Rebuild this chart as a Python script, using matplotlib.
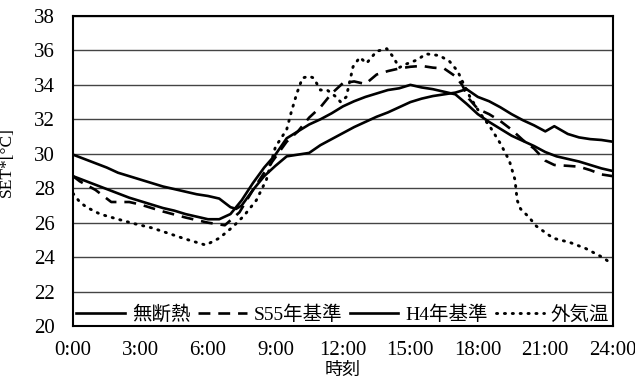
import matplotlib
matplotlib.use("Agg")
import matplotlib.pyplot as plt

plt.rcParams['font.family'] = ['Liberation Serif', 'Noto Sans CJK JP']

# 無断熱 (solid, rises fast)
t_mu = [0, 0.5, 1, 1.5, 2, 2.5, 3, 3.5, 4, 4.5, 5, 5.5, 6, 6.5, 7, 7.5, 8, 8.5, 9,
        9.5, 10, 10.5, 11, 11.5, 12, 12.5, 13, 13.5, 14, 14.5, 15, 15.5, 16, 16.5,
        17, 17.5, 18, 18.5, 19, 19.5, 20, 20.5, 21, 21.5, 22, 22.5, 23, 23.5, 24]
v_mu = [28.7, 28.45, 28.2, 27.95, 27.7, 27.45, 27.25, 27.05, 26.85, 26.7, 26.5, 26.35,
        26.2, 26.2, 26.5, 27.3, 28.3, 29.2, 29.95, 30.9, 31.3, 31.7, 32.0, 32.35, 32.75,
        33.05, 33.3, 33.5, 33.7, 33.8, 34.0, 33.85, 33.75, 33.6, 33.45, 32.9, 32.3,
        31.85, 31.45, 31.05, 30.75, 30.45, 30.1, 29.85, 29.7, 29.55, 29.35, 29.15, 29.0]

# S55年基準 (dashed)
t_s55 = [0, 0.3, 1, 1.7, 2.5, 3, 4, 5, 6, 6.75, 7.4, 8, 8.5, 9, 9.5, 10, 10.5, 11,
         11.5, 12, 12.5, 13, 13.5, 14, 14.5, 15, 15.5, 16, 16.5, 17, 17.3, 17.6, 18,
         18.5, 19, 19.5, 20, 20.5, 21, 21.4, 22, 22.5, 23, 23.5, 24]
v_s55 = [28.7, 28.4, 27.9, 27.2, 27.2, 27.05, 26.65, 26.3, 26.0, 25.85, 26.6, 27.9,
         28.9, 29.8, 30.7, 31.3, 32.1, 32.7, 33.5, 34.1, 34.2, 34.05, 34.6, 34.8, 34.95,
         35.05, 35.1, 35.0, 34.95, 34.5, 34.0, 33.2, 32.6, 32.3, 31.9, 31.4, 30.8, 30.3,
         29.6, 29.35, 29.3, 29.25, 29.05, 28.8, 28.7]

# H4年基準 (solid, lags)
t_h4 = [0, 0.5, 1, 1.5, 2, 2.5, 3, 3.5, 4, 4.5, 5, 5.5, 6, 6.5, 7, 7.25, 7.5, 8, 8.5,
        9, 9.5, 10, 10.5, 11, 11.5, 12, 12.5, 13, 13.5, 14, 14.5, 15, 15.5, 16, 16.5,
        17, 17.5, 18, 18.5, 19, 19.5, 20, 20.5, 21, 21.4, 22, 22.5, 23, 23.5, 24]
v_h4 = [29.95, 29.7, 29.45, 29.2, 28.9, 28.7, 28.5, 28.3, 28.1, 27.95, 27.8, 27.65,
        27.55, 27.4, 26.9, 26.8, 27.0, 27.9, 28.7, 29.3, 29.85, 29.95, 30.05, 30.5,
        30.85, 31.2, 31.55, 31.85, 32.15, 32.4, 32.7, 33.0, 33.2, 33.35, 33.45, 33.55,
        33.75, 33.3, 33.05, 32.7, 32.3, 31.95, 31.65, 31.3, 31.6, 31.15, 30.95, 30.85,
        30.8, 30.7]

# 外気温 (dotted)
t_out = [0, 0.3, 0.6, 1.2, 2, 2.7, 3.5, 4.2, 5, 5.9, 6.5, 7.1, 7.6, 8.15, 8.6, 9,
         9.5, 9.7, 9.95, 10.2, 10.5, 10.7, 11.0, 11.3, 11.7, 11.9, 12.15, 12.45, 12.75,
         13.05, 13.5, 13.95, 14.25, 14.5, 14.8, 15.3, 15.7, 16.3, 16.75, 17.1, 17.35,
         17.65, 18.1, 18.55, 19.0, 19.4, 19.65, 19.75, 19.9, 20.25, 20.6, 21.35, 22.1,
         22.8, 23.6, 23.85]
v_out = [27.7, 27.2, 26.9, 26.5, 26.2, 25.95, 25.7, 25.4, 25.05, 24.7, 25.1, 25.75,
         26.4, 27.3, 28.5, 30.4, 31.4, 32.4, 33.5, 34.4, 34.5, 34.4, 33.7, 33.7, 33.3,
         33.0, 33.3, 35.05, 35.6, 35.25, 35.95, 36.1, 35.6, 35.0, 35.2, 35.45, 35.8,
         35.7, 35.35, 34.8, 34.1, 33.3, 32.35, 31.55, 30.6, 29.6, 28.5, 27.3, 26.8,
         26.35, 25.8, 25.1, 24.85, 24.5, 23.95, 23.7]

xticks = [0, 3, 6, 9, 12, 15, 18, 21, 24]
xtick_labels = ['0:00', '3:00', '6:00', '9:00', '12:00', '15:00', '18:00', '21:00', '24:00']
yticks = [20, 22, 24, 26, 28, 30, 32, 34, 36, 38]

fig = plt.figure(figsize=(6.35, 3.8), dpi=100)
ax = fig.add_axes([0.115, 0.142, 0.85, 0.816])

lw = 1.9
ax.plot(t_mu, v_mu, color='black', lw=lw, label='無断熱')
ax.plot(t_s55, v_s55, color='black', lw=lw, linestyle=(0, (4.5, 3)), label='S55年基準')
ax.plot(t_h4, v_h4, color='black', lw=lw, label='H4年基準')
ax.plot(t_out, v_out, color='black', lw=2.1, linestyle=(0, (0.4, 2.3)),
        dash_capstyle='round', label='外気温')

ax.set_xlim(0, 24)
ax.set_ylim(20, 38)
ax.set_xticks(xticks)
ax.set_xticklabels(xtick_labels)
ax.set_yticks(yticks)
ax.tick_params(axis='both', length=0, labelsize=15)
ax.tick_params(axis='x', pad=11)
ax.tick_params(axis='y', pad=13)
ax.yaxis.grid(True, color='#444444', lw=1.0)
ax.set_axisbelow(True)
for s in ax.spines.values():
    s.set_linewidth(1.5)
    s.set_color('black')

ax.set_xlabel('時刻', fontsize=13, labelpad=1)
ax.set_ylabel('SET*[°C]', fontsize=12.5, labelpad=8)
ax.yaxis.set_label_coords(-0.108, 0.53)

ax.legend(loc='lower center', bbox_to_anchor=(0.5, 0.0), ncol=4, frameon=False,
          fontsize=14, handlelength=2.5, handletextpad=0.35, columnspacing=0.4,
          borderaxespad=0, borderpad=0.1)

fig.savefig('out.png', dpi=100)
